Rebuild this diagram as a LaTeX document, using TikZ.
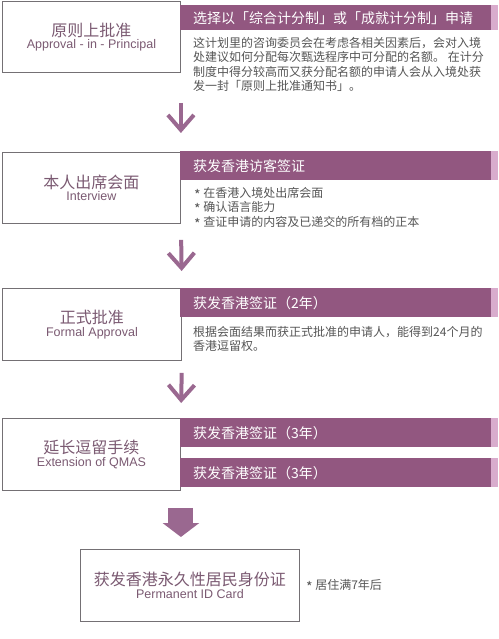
\documentclass[tikz,border=0pt]{standalone}
\usepackage{fontspec}
\setmainfont{Liberation Sans}
\newfontfamily\cjk{Noto Sans CJK SC}
\usepackage{xcolor}
\usetikzlibrary{arrows.meta, positioning}

\definecolor{violetEntete}{HTML}{925780}
\definecolor{roseBande}{HTML}{D9ACCD}
\definecolor{violetFleche}{HTML}{9A6890}
\definecolor{mauveTexte}{HTML}{7B5A72}
\definecolor{grisCadre}{HTML}{747074}
\definecolor{grisCorps}{HTML}{555555}

\newcommand{\etoile}{\raisebox{-3pt}{\fontsize{14}{14}\selectfont *}}
\newcommand{\interligneFixe}{\setlength{\lineskiplimit}{-30pt}}

\begin{document}
\begin{tikzpicture}[
			x=1pt, y=1pt,
			% Styles des étapes
			etape/.style={draw=grisCadre, line width=0.9pt, fill=white, anchor=north west, inner sep=0pt, minimum width=178pt, minimum height=71pt, align=center, text=mauveTexte, font=\fontsize{12.5}{12.5}\selectfont\interligneFixe},
			entete/.style={fill=violetEntete, anchor=north west, inner xsep=13pt, inner ysep=0pt, text width=285pt, minimum height=29pt, align=left, text=white, font=\cjk\fontsize{14}{16}\selectfont},
			corps/.style={anchor=north west, inner sep=0pt, align=left, text=grisCorps, font=\cjk\fontsize{12}{14.5}\selectfont\interligneFixe},
			bande/.style={fill=roseBande},
			flecheFine/.style={draw=violetFleche, line width=4pt, -{Straight Barb[length=15pt, width=26pt]}},
			flecheLarge/.style={draw=violetFleche, line width=25pt, -{Triangle[length=14pt, width=36pt]}},
			]

			\useasboundingbox (0,0) rectangle (498,-639);

			% Étapes de gauche
			\node[etape] (principe) at (2,-1) {{\cjk\fontsize{16}{18}\selectfont 原则上批准}\\Approval - in - Principal};
			\node[etape] (entretien) at (2,-152) {{\cjk\fontsize{16}{18}\selectfont 本人出席会面}\\Interview};
			\node[etape, minimum width=179pt, minimum height=72pt] (formel) at (2,-288) {{\cjk\fontsize{16}{18}\selectfont 正式批准}\\Formal Approval};
			\node[etape, minimum height=72pt] (prolong) at (2,-418) {{\cjk\fontsize{16}{18}\selectfont 延长逗留手续}\\Extension of QMAS};
			\node[etape, minimum width=219pt, minimum height=72pt] (carte) at (80,-549) {{\cjk\fontsize{16}{18}\selectfont 获发香港永久性居民身份证}\\Permanent ID Card};

			% En-têtes violets
			\node[entete, minimum height=25pt] (enteteA) at (180,-5) {选择以「综合计分制」或「成就计分制」申请};
			\node[entete] (enteteB) at (180,-151) {获发香港访客签证};
			\node[entete] (enteteC) at (180,-288) {获发香港签证（2年）};
			\node[entete] (enteteD) at (180,-418) {获发香港签证（3年）};
			\node[entete] (enteteE) at (180,-458) {获发香港签证（3年）};

			\foreach \e in {enteteA, enteteB, enteteC, enteteD, enteteE}
				\fill[bande] (\e.north east) rectangle ([xshift=7pt]\e.south east);

			% Textes
			\node[corps] (corpsA) at (193,-37) {这计划里的咨询委员会在考虑各相关因素后，会对入境\\处建议如何分配每次甄选程序中可分配的名额。 在计分\\制度中得分较高而又获分配名额的申请人会从入境处获\\发一封「原则上批准通知书」。};
			\node[corps] (corpsB) at (194,-187) {\etoile\ 在香港入境处出席会面\\\etoile\ 确认语言能力\\\etoile\ 查证申请的内容及已递交的所有档的正本};
			\node[corps] (corpsC) at (193,-326) {根据会面结果而获正式批准的申请人，能得到24个月的\\香港逗留权。};
			\node[corps, right=6pt of carte] (note) {\etoile\ 居住满7年后};

			% Flèches
			\draw[flecheFine, shorten <=30pt, shorten >=19pt] (principe.south east) -- (entretien.north east);
			\draw[flecheFine, shorten <=16pt, shorten >=17pt] (entretien.south east) -- (formel.north east);
			\draw[flecheFine, shorten <=12pt, shorten >=15pt] (formel.south east) -- (prolong.north east);
			\draw[flecheLarge, shorten <=17pt, shorten >=12pt] (prolong.south east) -- (prolong.south east |- carte.north);

		\end{tikzpicture}
\end{document}
